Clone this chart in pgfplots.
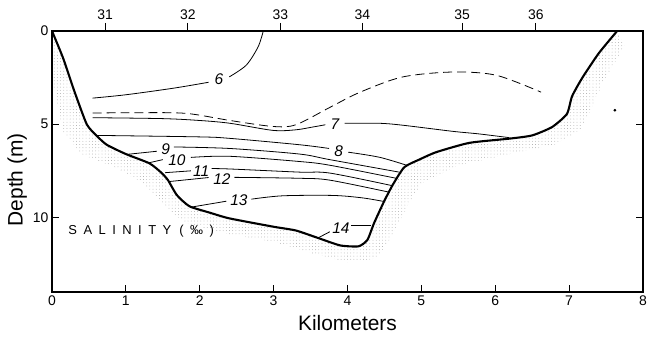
\documentclass[border=0pt]{standalone}
\usepackage{fontspec}
\setmainfont{Liberation Sans}
\newfontfamily\spacedsans[LetterSpace=50]{Liberation Sans}
\usepackage{pgfplots}
\pgfplotsset{compat=1.18}
\usetikzlibrary{patterns.meta}

\begin{document}
\begin{tikzpicture}
% station numbers along the top
\begin{axis}[
  scale only axis, width=591bp, height=261bp,
  xmin=0, xmax=8, ymin=0, ymax=1,
  axis x line*=top, hide y axis,
  axis line style={line width=1.2pt},
  xtick={0.72,1.84,3.09,4.2,5.55,6.55},
  xticklabels={31,32,33,34,35,36},
  tick align=outside, major tick length=8bp,
  tick style={line width=0.9pt, black},
  xticklabel style={font=\fontsize{14}{14}\selectfont},
  /pgf/number format/assume math mode=true,
]
\end{axis}
\begin{axis}[
  scale only axis, width=591bp, height=261bp,
  xmin=0, xmax=8, ymin=0, ymax=14, y dir=reverse,
  axis line style={line width=1.3pt},
  tick align=inside, major tick length=7bp,
  tick style={line width=0.9pt, black},
  xtick={0,...,8}, ytick={0,5,10},
  xtick pos=lower, xticklabel pos=lower,
  ytick pos=both, yticklabel pos=left,
  ticklabel style={font=\fontsize{14}{14}\selectfont},
  /pgf/number format/assume math mode=true,
  xlabel={Kilometers}, ylabel={Depth (m)},
  label style={font=\fontsize{21}{21}\selectfont, inner sep=0pt},
  xlabel style={at={(axis description cs:0.5,-0.146)}, anchor=base},
  ylabel style={at={(axis description cs:-0.059,0.43)}, anchor=center, rotate=0},
  clip=true,
]
% corners of the frame, used for the page margins
\coordinate (frameSW) at (axis description cs:0,0);
\coordinate (frameNE) at (axis description cs:1,1);
% stippled sediment beneath the channel bed
\addplot[draw=none, pattern={Dots[distance=3.2pt, radius=0.4pt]}, pattern color=gray!80]
  coordinates {
  (0,0) (0.15,1.45) (0.3,3.2) (0.47,5.0) (0.6,5.6) (0.74,6.1) (1.0,6.6)
  (1.32,7.1) (1.48,7.6) (1.57,8.0) (1.69,8.8) (1.86,9.4) (2.14,9.75)
  (2.4,10.05) (3.0,10.5) (3.3,10.7) (3.6,11.1) (3.9,11.5) (4.15,11.55)
  (4.27,11.2) (4.36,10.3) (4.5,9.1) (4.62,8.2) (4.77,7.3) (4.97,6.9)
  (5.2,6.5) (5.65,6.0) (6.2,5.77) (6.5,5.6) (6.77,5.15) (6.97,4.45)
  (7.04,3.5) (7.18,2.5) (7.4,1.2) (7.65,0)
  (7.75,0.8) (7.45,2.8) (7.3,4.2) (7.15,5.3) (6.8,6.1) (6.2,6.6)
  (5.5,7.2) (5.0,8.2) (4.8,9.5) (4.6,11.0) (4.4,12.2) (4.0,12.4)
  (3.5,11.9) (3.0,11.3) (2.4,10.9) (1.8,10.3) (1.5,9.3) (1.25,8.2)
  (0.9,7.4) (0.4,6.6) (0.15,5.4) (0,2.5)
  } -- cycle;
% stray speck on the right bank
\addplot[only marks, mark=*, mark size=0.9pt] coordinates {(7.62,4.25)};
% dashed isohaline
\addplot[smooth, tension=0.5, line width=0.8pt, dash pattern=on 9pt off 5pt]
  coordinates {(0.55,4.4) (1.2,4.38) (1.82,4.42) (2.41,4.8) (2.99,5.12)
  (3.3,5.03) (3.76,4.1) (4.16,3.3) (4.74,2.47) (5.42,2.2) (6.01,2.37) (6.62,3.28)};
% isohalines (solid), broken where they are labelled
\pgfplotsset{every axis plot/.append style={line width=0.8pt}}
\addplot[smooth, tension=0.5] coordinates {(0.55,3.6) (1.0,3.42) (1.64,3.07) (2.12,2.75)};
\addplot[smooth, tension=0.5] coordinates {(2.4,2.46) (2.63,1.83) (2.79,0.85) (2.86,0)};
\addplot[smooth, tension=0.5] coordinates {(0.55,4.65) (1.5,4.7) (2.0,4.8) (2.41,4.95)
  (2.99,5.33) (3.3,5.3) (3.53,5.15) (3.7,5.03)};
\addplot[smooth, tension=0.5] coordinates {(3.96,4.95) (4.43,4.95) (4.74,5.05)
  (5.42,5.38) (5.78,5.52) (6.19,5.72)};
\addplot[smooth, tension=0.5] coordinates {(0.6,5.6) (2.0,5.68) (2.41,5.76) (3.35,6.1) (3.75,6.3)};
\addplot[smooth, tension=0.5] coordinates {(4.01,6.5) (4.43,6.77) (4.8,7.2)};
\addplot[smooth, tension=0.5] coordinates {(1.01,6.62) (1.42,6.45)};
\addplot[smooth, tension=0.5] coordinates {(1.65,6.22) (2.4,6.3) (3.35,6.6) (3.76,6.9) (4.7,7.57)};
\addplot[smooth, tension=0.5] coordinates {(1.3,7.08) (1.5,6.9)};
\addplot[smooth, tension=0.5] coordinates {(1.88,6.78) (2.4,6.72) (3.35,7.0) (3.76,7.2) (4.66,7.9)};
\addplot[smooth, tension=0.5] coordinates {(1.53,7.6) (1.88,7.5)};
\addplot[smooth, tension=0.5] coordinates {(2.16,7.38) (2.4,7.4) (3.35,7.57) (3.76,7.62) (4.61,8.3)};
\addplot[smooth, tension=0.5] coordinates {(1.6,8.07) (2.12,7.86)};
\addplot[smooth, tension=0.5] coordinates {(2.47,7.85) (3.35,7.9) (3.76,8.0) (4.57,8.65)};
\addplot[smooth, tension=0.5] coordinates {(1.88,9.45) (2.36,9.13)};
\addplot[smooth, tension=0.5] coordinates {(2.7,9.02) (3.12,8.84) (3.8,8.82) (4.2,8.95) (4.5,9.15)};
\addplot[smooth, tension=0.5] coordinates {(3.6,11.1) (3.76,10.77)};
\addplot[smooth, tension=0.5] coordinates {(4.05,10.42) (4.32,10.42)};
% channel bed
\addplot[smooth, tension=0.35, line width=2.1pt] coordinates {
  (0,0) (0.15,1.45) (0.3,3.2) (0.47,5.0) (0.6,5.6) (0.74,6.1) (1.0,6.6)
  (1.32,7.1) (1.48,7.6) (1.57,8.0) (1.69,8.8) (1.86,9.4) (2.14,9.75)
  (2.4,10.05) (3.0,10.5) (3.3,10.7) (3.6,11.1) (3.9,11.5) (4.15,11.55)
  (4.27,11.2) (4.36,10.3) (4.5,9.1) (4.62,8.2) (4.77,7.3) (4.97,6.9)
  (5.2,6.5) (5.65,6.0) (6.2,5.77) (6.5,5.6) (6.77,5.15) (6.97,4.45)
  (7.04,3.5) (7.18,2.5) (7.4,1.2) (7.65,0)};
% isohaline labels
\begin{scope}[every node/.style={font=\itshape\fontsize{15.5}{15.5}\selectfont, inner sep=0pt}]
\node at (axis cs:2.26,2.6) {6};
\node at (axis cs:3.83,5.0) {7};
\node at (axis cs:3.88,6.42) {8};
\node at (axis cs:1.54,6.36) {9};
\node at (axis cs:1.69,6.95) {10};
\node at (axis cs:2.02,7.52) {11};
\node at (axis cs:2.3,7.95) {12};
\node at (axis cs:2.53,9.08) {13};
\node at (axis cs:3.91,10.58) {14};
\end{scope}
\node[font=\spacedsans\fontsize{13}{13}\selectfont, anchor=west, inner sep=0pt]
  at (axis cs:0.22,10.75) {SALINITY\hspace{8pt}(‰)};
\end{axis}
% page margins around the frame
\pgfresetboundingbox
\path ([shift={(-52bp,-47bp)}]frameSW) rectangle ([shift={(4bp,31bp)}]frameNE);
\end{tikzpicture}
\end{document}
